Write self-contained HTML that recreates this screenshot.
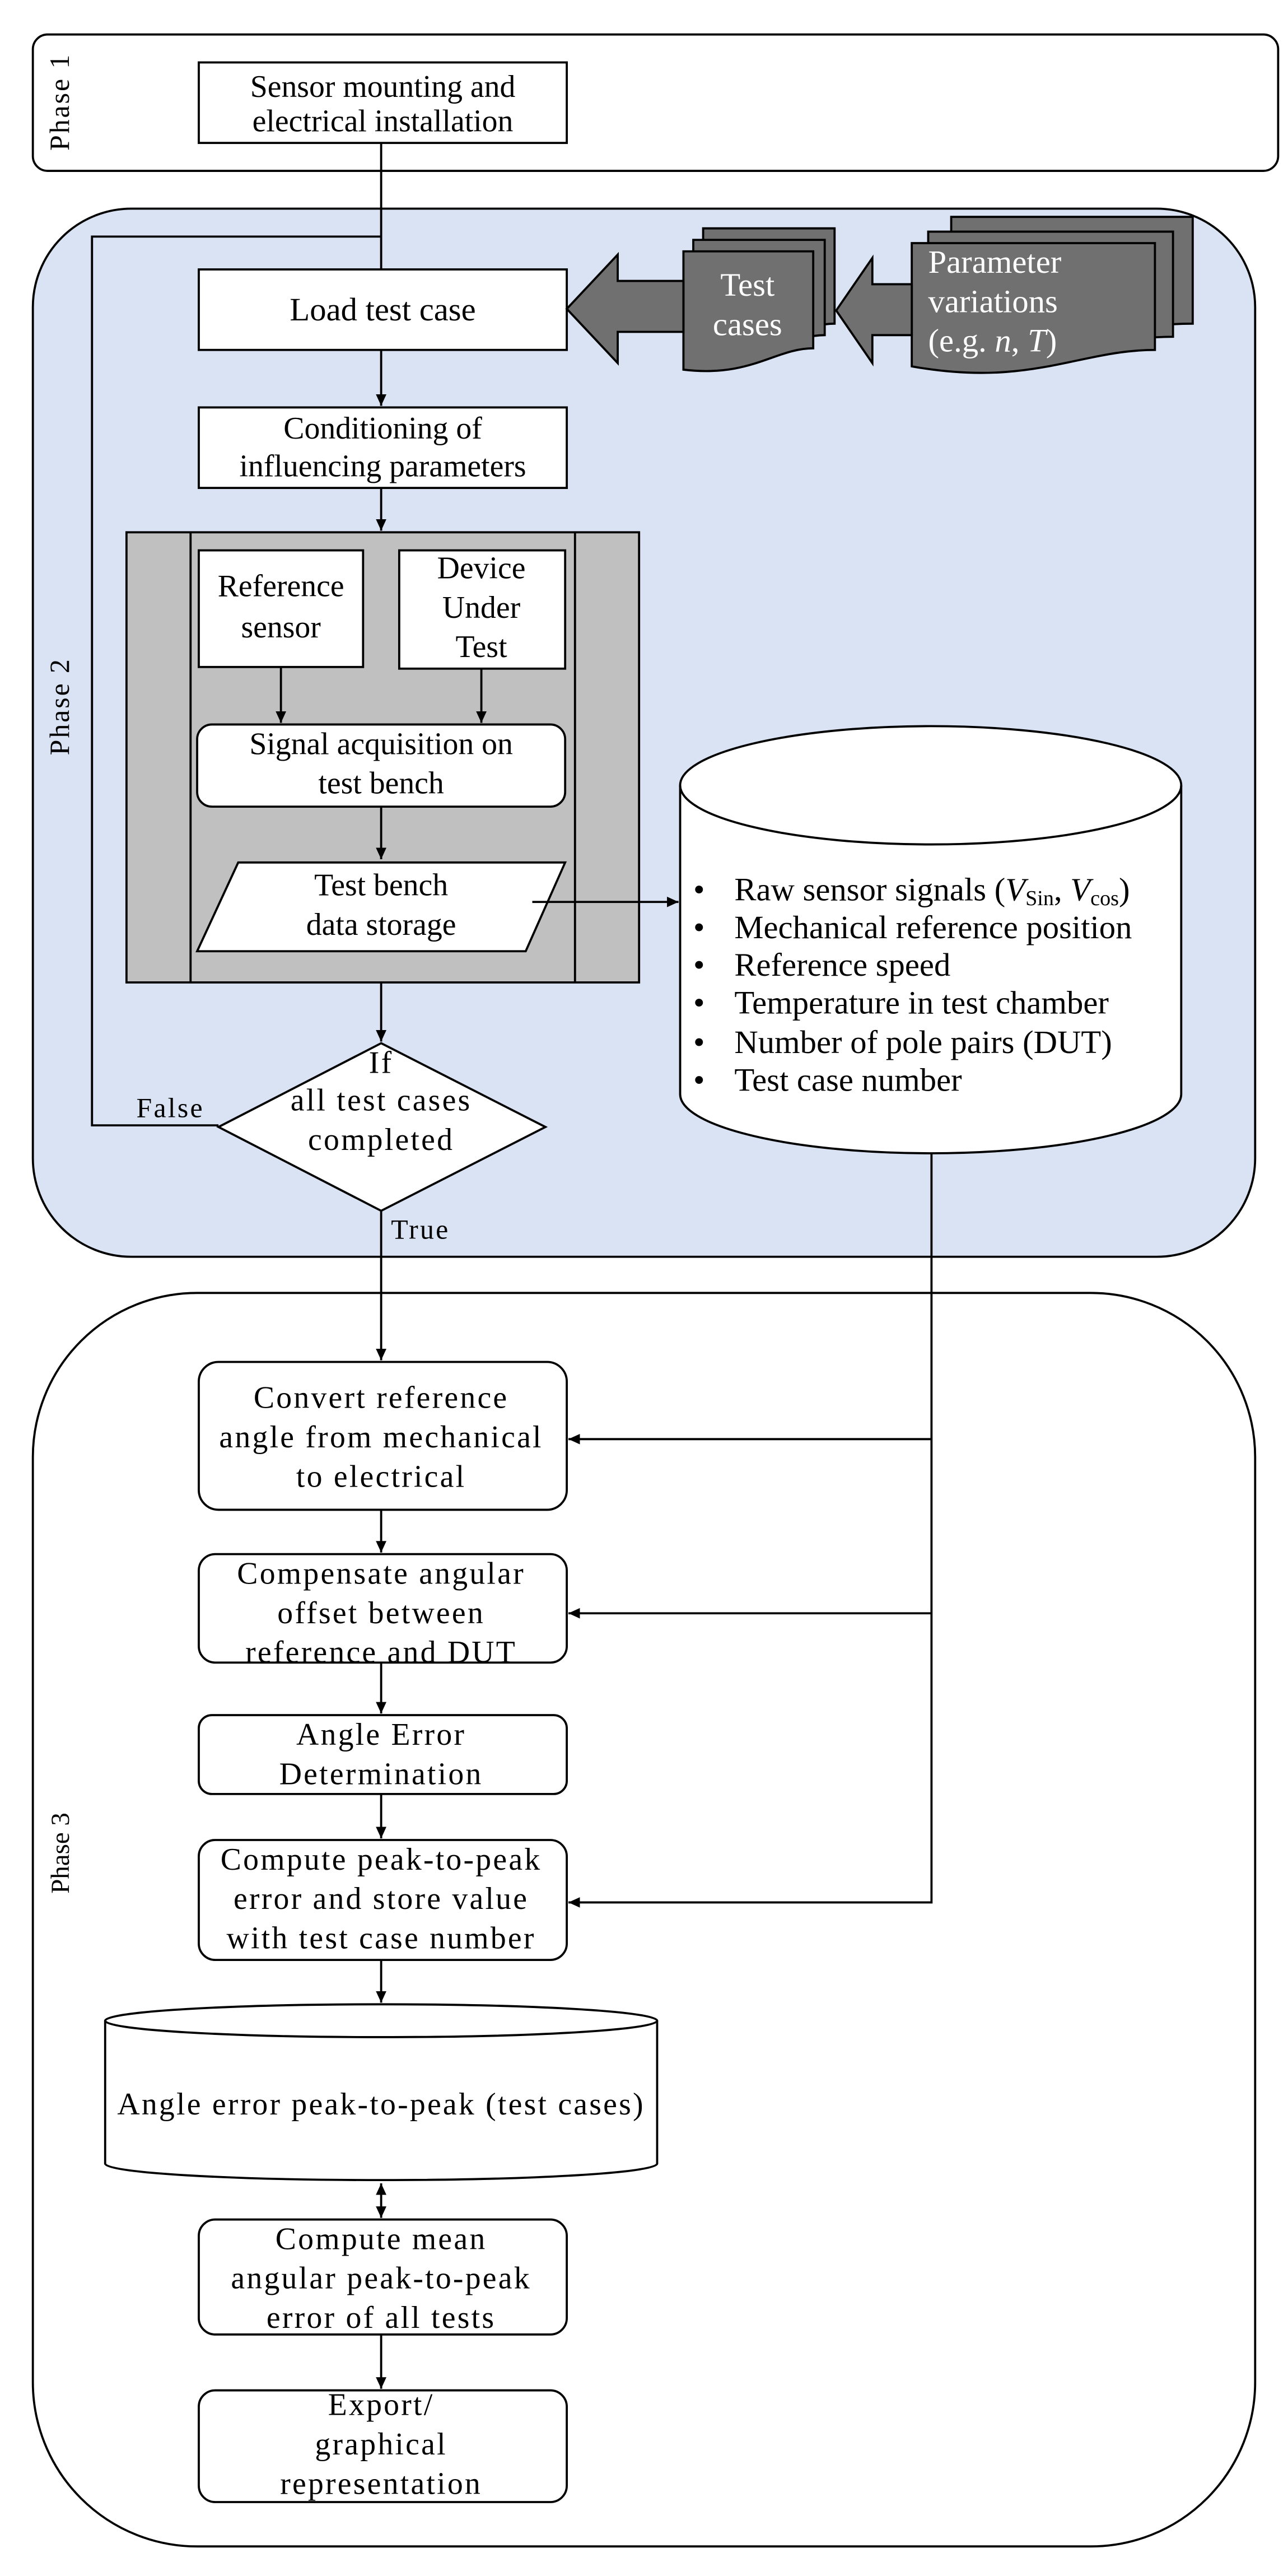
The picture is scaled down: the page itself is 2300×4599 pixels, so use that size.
<!DOCTYPE html>
<html><head><meta charset="utf-8"><style>
html,body{margin:0;padding:0;background:#fff}
svg{display:block}
text{font-family:"Liberation Serif",serif;font-size:19px;fill:#000}
.p3{letter-spacing:1.1px;font-size:18.5px}
</style></head><body>
<svg width="2300" height="4599" viewBox="0 0 784 1568" preserveAspectRatio="none" xmlns="http://www.w3.org/2000/svg">
<defs>
<marker id="a" markerWidth="8" markerHeight="8" refX="7" refY="4" orient="auto" markerUnits="userSpaceOnUse"><path d="M0,0.8 L7,4 L0,7.2 Z" fill="#000"/></marker>
<marker id="s" markerWidth="8" markerHeight="8" refX="1" refY="4" orient="auto" markerUnits="userSpaceOnUse"><path d="M8,0.8 L1,4 L8,7.2 Z" fill="#000"/></marker>
</defs>
<g stroke="#000" stroke-width="1.3" fill="none">
<rect x="20" y="21" width="758" height="83" rx="9" fill="#fff"/>
<rect x="20" y="127" width="744" height="638" rx="60" fill="#dae3f3"/>
<rect x="20" y="787" width="744" height="763" rx="100" fill="#fff"/>
<line x1="232" y1="87" x2="232" y2="164"/>
<polyline points="133,685 56,685 56,144 232,144"/>
<line x1="232" y1="213" x2="232" y2="247" marker-end="url(#a)"/>
<line x1="232" y1="297" x2="232" y2="323" marker-end="url(#a)"/>
<rect x="77" y="324" width="312" height="274" fill="#c0c0c0"/>
<line x1="116" y1="324" x2="116" y2="598"/>
<line x1="350" y1="324" x2="350" y2="598"/>
<rect x="121" y="335" width="100" height="71" fill="#fff"/>
<rect x="243" y="335" width="101" height="72" fill="#fff"/>
<line x1="171" y1="406" x2="171" y2="440" marker-end="url(#a)"/>
<line x1="293" y1="407" x2="293" y2="440" marker-end="url(#a)"/>
<rect x="120" y="441" width="224" height="50" rx="9" fill="#fff"/>
<line x1="232" y1="491" x2="232" y2="523" marker-end="url(#a)"/>
<polygon points="145,525 344,525 320,579 120,579" fill="#fff"/>
<line x1="324" y1="549" x2="413" y2="549" marker-end="url(#a)"/>
<path d="M414,478 A152.5,36 0 0 1 719,478 L719,666 A152.5,36 0 0 1 414,666 Z" fill="#fff"/>
<path d="M414,478 A152.5,36 0 0 0 719,478"/>
<line x1="232" y1="598" x2="232" y2="634" marker-end="url(#a)"/>
<polygon points="232,635 332,686 232,737 133,686" fill="#fff"/>
<line x1="232" y1="737" x2="232" y2="828" marker-end="url(#a)"/>
<polyline points="567,702 567,1158 346,1158" marker-end="url(#a)"/>
<line x1="567" y1="876" x2="346" y2="876" marker-end="url(#a)"/>
<line x1="567" y1="982" x2="346" y2="982" marker-end="url(#a)"/>
<rect x="121" y="38" width="224" height="49" fill="#fff"/>
<rect x="121" y="164" width="224" height="49" fill="#fff"/>
<rect x="121" y="248" width="224" height="49" fill="#fff"/>
<rect x="121" y="829" width="224" height="90" rx="12" fill="#fff"/>
<line x1="232" y1="919" x2="232" y2="945" marker-end="url(#a)"/>
<rect x="121" y="946" width="224" height="66" rx="10" fill="#fff"/>
<line x1="232" y1="1012" x2="232" y2="1043" marker-end="url(#a)"/>
<rect x="121" y="1044" width="224" height="48" rx="8" fill="#fff"/>
<line x1="232" y1="1092" x2="232" y2="1119" marker-end="url(#a)"/>
<rect x="121" y="1120" width="224" height="73" rx="10" fill="#fff"/>
<line x1="232" y1="1193" x2="232" y2="1219" marker-end="url(#a)"/>
<path d="M64,1230 A168,10 0 0 1 400,1230 L400,1317 A168,10 0 0 1 64,1317 Z" fill="#fff"/>
<path d="M64,1230 A168,10 0 0 0 400,1230"/>
<line x1="232" y1="1329" x2="232" y2="1350" marker-start="url(#s)" marker-end="url(#a)"/>
<rect x="121" y="1351" width="224" height="70" rx="10" fill="#fff"/>
<line x1="232" y1="1421" x2="232" y2="1454" marker-end="url(#a)"/>
<rect x="121" y="1455" width="224" height="68" rx="10" fill="#fff"/>
<g fill="#707070">
<path d="M428,139 L508,139 L508,197 C485,197 470,215 428,211 Z"/>
<path d="M422,146 L502,146 L502,204 C479,204 464,222 422,218 Z"/>
<path d="M416,153 L495,153 L495,212 C472,212 457,230 416,225 Z"/>
<path d="M579,132 L726,132 L726,197 C680,197 650,212 579,205 Z"/>
<path d="M565,141 L714,141 L714,205 C668,205 638,222 565,214 Z"/>
<path d="M555,148 L703,148 L703,213 C657,213 627,236 555,223 Z"/>
<polygon points="416,171 376,171 376,155 345,188 376,221 376,202 416,202"/>
<polygon points="555,173 531,173 531,157 509,189 531,221 531,204 555,204"/>
</g>
</g>
<g text-anchor="middle">
<text x="233" y="59">Sensor mounting and</text>
<text x="233" y="80">electrical installation</text>
<text x="233" y="195" style="font-size:20px">Load test case</text>
<text x="233" y="267">Conditioning of</text>
<text x="233" y="290">influencing parameters</text>
<text x="171" y="363">Reference</text>
<text x="171" y="388">sensor</text>
<text x="293" y="352">Device</text>
<text x="293" y="376">Under</text>
<text x="293" y="400">Test</text>
<text x="232" y="459">Signal acquisition on</text>
<text x="232" y="483">test bench</text>
<text x="232" y="545">Test bench</text>
<text x="232" y="569">data storage</text>
<g class="p3">
<text x="232" y="653">If</text>
<text x="232" y="676">all test cases</text>
<text x="232" y="700">completed</text>
<text x="232" y="857">Convert reference</text>
<text x="232" y="881">angle from mechanical</text>
<text x="232" y="905">to electrical</text>
<text x="232" y="964">Compensate angular</text>
<text x="232" y="988">offset between</text>
<text x="232" y="1012">reference and DUT</text>
<text x="232" y="1062">Angle Error</text>
<text x="232" y="1086">Determination</text>
<text x="232" y="1138">Compute peak-to-peak</text>
<text x="232" y="1162">error and store value</text>
<text x="232" y="1186">with test case number</text>
<text x="232" y="1287">Angle error peak-to-peak (test cases)</text>
<text x="232" y="1369">Compute mean</text>
<text x="232" y="1393">angular peak-to-peak</text>
<text x="232" y="1417">error of all tests</text>
<text x="232" y="1470">Export/</text>
<text x="232" y="1494">graphical</text>
<text x="232" y="1518">representation</text>
</g>
<text x="455" y="180" style="fill:#fff;font-size:20px">Test</text>
<text x="455" y="204" style="fill:#fff;font-size:20px">cases</text>
</g>
<text x="565" y="166" style="fill:#fff;font-size:20px">Parameter</text>
<text x="565" y="190" style="fill:#fff;font-size:20px">variations</text>
<text x="565" y="214" style="fill:#fff;font-size:20px">(e.g. <tspan font-style="italic" style="fill:#fff">n</tspan>, <tspan font-style="italic" style="fill:#fff">T</tspan>)</text>
<text x="83" y="680" class="p3" style="font-size:17px">False</text>
<text x="238" y="754" class="p3" style="font-size:17px">True</text>
<g style="font-size:20px">
<text x="422" y="548" style="font-size:20px">•</text><text x="447" y="548" style="font-size:20px">Raw sensor signals (<tspan font-style="italic">V</tspan><tspan font-size="13" dy="3">Sin</tspan><tspan dy="-3">, </tspan><tspan font-style="italic">V</tspan><tspan font-size="13" dy="3">cos</tspan><tspan dy="-3">)</tspan></text>
<text x="422" y="571" style="font-size:20px">•</text><text x="447" y="571" style="font-size:20px">Mechanical reference position</text>
<text x="422" y="594" style="font-size:20px">•</text><text x="447" y="594" style="font-size:20px">Reference speed</text>
<text x="422" y="617" style="font-size:20px">•</text><text x="447" y="617" style="font-size:20px">Temperature in test chamber</text>
<text x="422" y="641" style="font-size:20px">•</text><text x="447" y="641" style="font-size:20px">Number of pole pairs (DUT)</text>
<text x="422" y="664" style="font-size:20px">•</text><text x="447" y="664" style="font-size:20px">Test case number</text>
</g>
<text transform="translate(42,62) rotate(-90)" text-anchor="middle" style="font-size:17px;letter-spacing:1px">Phase 1</text>
<text transform="translate(42,430) rotate(-90)" text-anchor="middle" style="font-size:17px;letter-spacing:1px">Phase 2</text>
<text transform="translate(42,1128) rotate(-90)" text-anchor="middle" style="font-size:16px">Phase 3</text>
</svg>
</body></html>
